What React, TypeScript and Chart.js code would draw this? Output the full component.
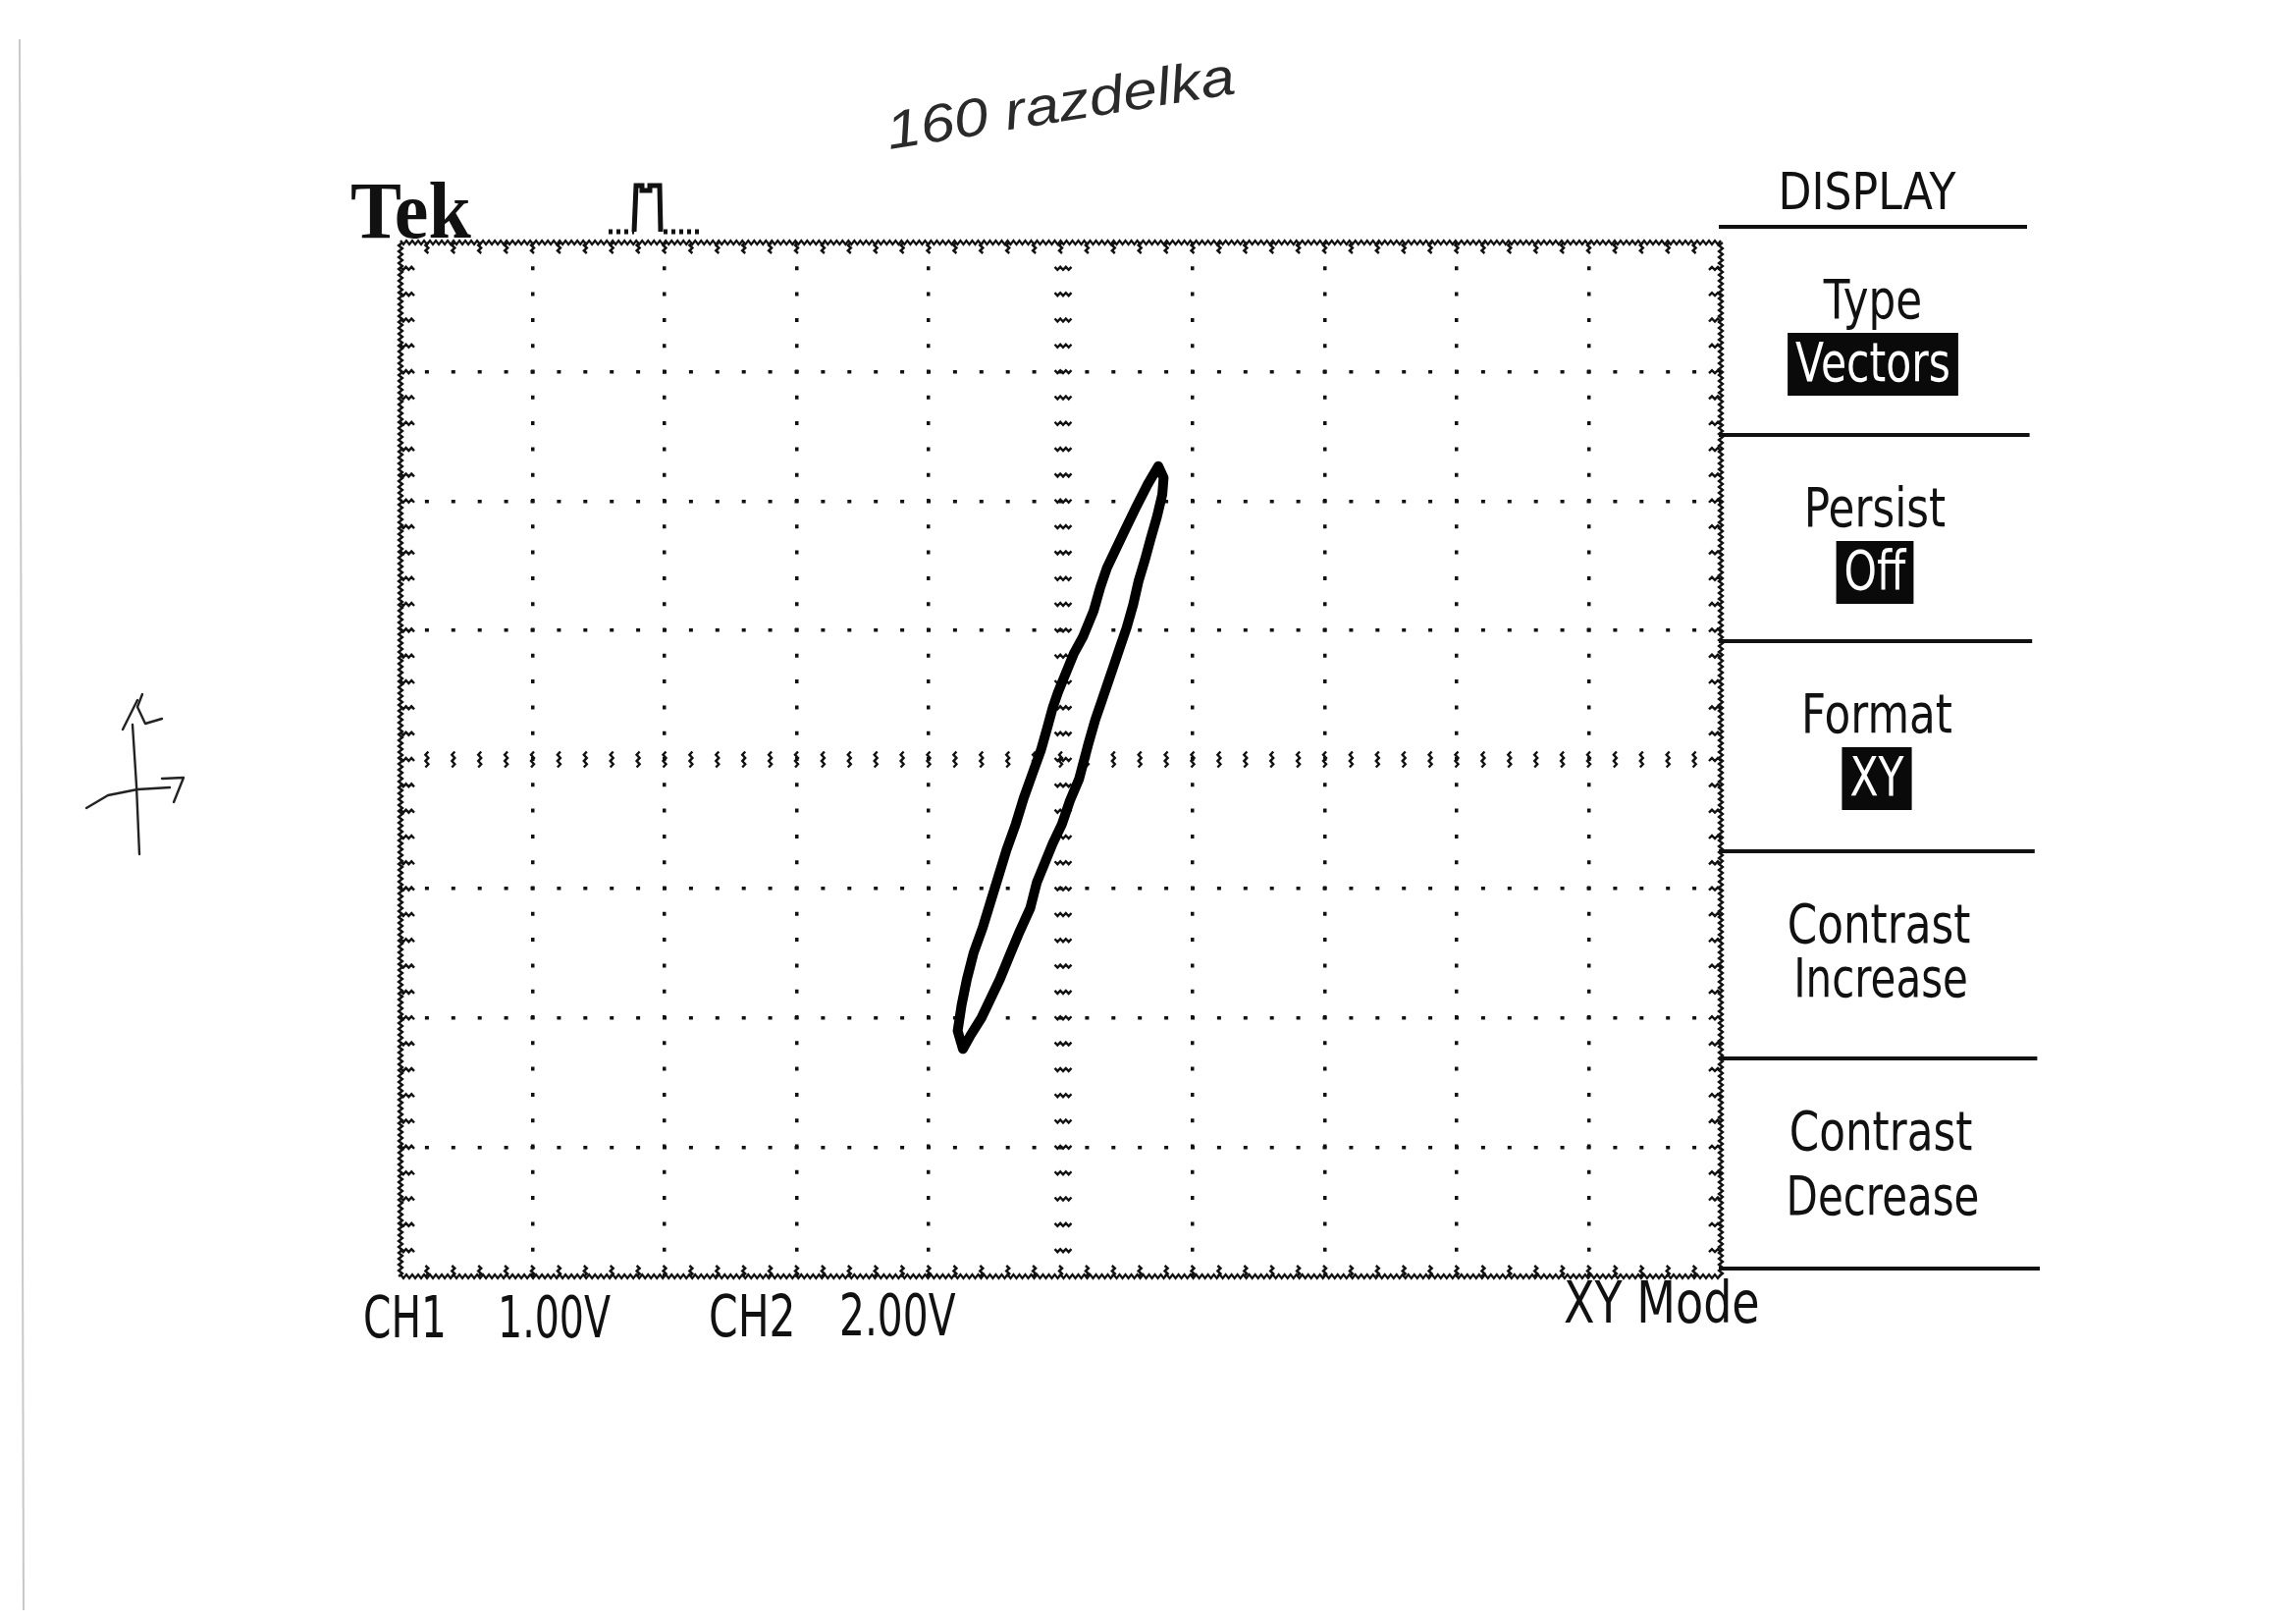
import { useEffect, useRef } from "react";
import { Chart, registerables } from "chart.js";

Chart.register(...registerables);

// ---------- data (in divisions) ----------
// CH1 drives X (1.00 V/div), CH2 drives Y (2.00 V/div)
const traceX = [
  -0.74, -0.78, -0.75, -0.71, -0.66, -0.59, -0.53, -0.47, -0.41, -0.34, -0.28,
  -0.21, -0.15, -0.1, -0.06, -0.02, 0.04, 0.1, 0.17, 0.25, 0.3, 0.35, 0.41, 0.48,
  0.57, 0.66, 0.74, 0.78, 0.77, 0.73, 0.68, 0.64, 0.59, 0.55, 0.5, 0.45, 0.41,
  0.36, 0.31, 0.26, 0.21, 0.14, 0.07, 0.01, -0.06, -0.12, -0.18, -0.23, -0.31,
  -0.38, -0.46, -0.53, -0.6, -0.68, -0.74,
];
const traceY = [
  -2.24, -2.1, -1.9, -1.7, -1.5, -1.3, -1.1, -0.9, -0.7, -0.5, -0.3, -0.1, 0.07,
  0.25, 0.4, 0.52, 0.67, 0.82, 0.95, 1.15, 1.33, 1.48, 1.61, 1.76, 1.95, 2.13,
  2.27, 2.18, 2.05, 1.88, 1.7, 1.55, 1.38, 1.2, 1.02, 0.87, 0.75, 0.6, 0.45, 0.3,
  0.12, -0.15, -0.32, -0.5, -0.65, -0.8, -0.95, -1.15, -1.33, -1.5, -1.7, -1.85,
  -2.0, -2.13, -2.24,
];

const xRange = [-5, 5];
const yRange = [-4, 4];
const minorPerDivision = 5;

const brandLabel = "Tek";
const menuTitle = "DISPLAY";
const menuLabels = ["Type", "Persist", "Format", "Contrast", "Contrast"];
const menuValues = ["Vectors", "Off", "XY", "Increase", "Decrease"];
const menuValueHighlighted = [true, true, true, false, false];
const channelNames = ["CH1", "CH2"];
const channelScales = ["1.00V", "2.00V"];
const modeLabel = "XY Mode";
const noteLabel = "160 razdelka";

// ---------- layout ----------
const W = 2339;
const H = 1653;
const AREA = { left: 408, top: 247, right: 1753, bottom: 1300 };
const INK = "#111";
const SANS = '"DejaVu Sans"';

type Opt = {
  size: number;
  sx?: number;
  align?: CanvasTextAlign;
  font?: string;
  weight?: string;
  style?: string;
  color?: string;
  rot?: number;
};

function text(ctx: CanvasRenderingContext2D, s: string, x: number, y: number, o: Opt) {
  ctx.save();
  ctx.translate(x, y);
  if (o.rot) ctx.rotate(o.rot);
  ctx.scale(o.sx ?? 1, 1);
  ctx.font = `${o.style ?? "normal"} ${o.weight ?? "normal"} ${o.size}px ${o.font ?? SANS}`;
  ctx.textAlign = o.align ?? "left";
  ctx.textBaseline = "alphabetic";
  ctx.fillStyle = o.color ?? INK;
  ctx.fillText(s, 0, 0);
  ctx.restore();
}

function zig(
  ctx: CanvasRenderingContext2D,
  x1: number,
  y1: number,
  x2: number,
  y2: number,
  amp = 1.6,
  step = 3
) {
  const dx = x2 - x1;
  const dy = y2 - y1;
  const len = Math.hypot(dx, dy);
  const n = Math.max(2, Math.round(len / step));
  const nx = -dy / len;
  const ny = dx / len;
  ctx.beginPath();
  for (let i = 0; i <= n; i++) {
    const t = i / n;
    const s = (i % 2 ? 1 : -1) * amp;
    const px = x1 + dx * t + nx * s;
    const py = y1 + dy * t + ny * s;
    if (i === 0) ctx.moveTo(px, py);
    else ctx.lineTo(px, py);
  }
  ctx.stroke();
}

function polyline(ctx: CanvasRenderingContext2D, pts: number[][]) {
  ctx.beginPath();
  pts.forEach(([x, y], i) => (i ? ctx.lineTo(x, y) : ctx.moveTo(x, y)));
  ctx.stroke();
}

const screenPlugin = {
  id: "tekScreen",
  beforeDraw(chart: any) {
    const ctx = chart.ctx as CanvasRenderingContext2D;
    ctx.save();
    ctx.fillStyle = "#fff";
    ctx.fillRect(0, 0, chart.width, chart.height);
    ctx.restore();
  },
  beforeDatasetsDraw(chart: any) {
    const ctx = chart.ctx as CanvasRenderingContext2D;
    const xs = chart.scales.x;
    const ys = chart.scales.y;
    const { left, right, top, bottom } = chart.chartArea;
    const x0 = xs.getPixelForValue(0);
    const y0 = ys.getPixelForValue(0);
    ctx.save();
    ctx.strokeStyle = INK;
    ctx.lineCap = "butt";

    // minor graticule ticks along the frame and the centre cross
    ctx.lineWidth = 2.4;
    const step = 1 / minorPerDivision;
    for (let v = xRange[0] + step; v < xRange[1] - 1e-6; v += step) {
      const px = xs.getPixelForValue(v);
      zig(ctx, px, top, px, top + 11, 1.5, 3);
      zig(ctx, px, bottom, px, bottom - 11, 1.5, 3);
      zig(ctx, px, y0 - 8, px, y0 + 8, 1.5, 3);
    }
    for (let v = yRange[0] + step; v < yRange[1] - 1e-6; v += step) {
      const py = ys.getPixelForValue(v);
      zig(ctx, left, py, left + 14, py, 1.5, 3);
      zig(ctx, right, py, right - 12, py, 1.5, 3);
      zig(ctx, x0 - 6, py, x0 + 11, py, 1.5, 3);
    }

    // frame
    ctx.lineWidth = 2.4;
    zig(ctx, left, top, right, top, 1.9, 3);
    zig(ctx, left, bottom, right, bottom, 1.9, 3);
    zig(ctx, left, top, left, bottom, 1.9, 3);
    zig(ctx, right, top, right, bottom, 1.9, 3);
    ctx.restore();
  },
  afterDraw(chart: any) {
    const ctx = chart.ctx as CanvasRenderingContext2D;
    const { left, right, top, bottom } = chart.chartArea;
    ctx.save();

    // faint scan edge
    ctx.strokeStyle = "#c8c8c8";
    ctx.lineWidth = 2;
    polyline(ctx, [
      [20, 40],
      [24, 1640],
    ]);

    // brand + trigger glyph
    text(ctx, brandLabel, left - 51, top - 5, {
      size: 82,
      sx: 0.95,
      font: '"Liberation Serif"',
      weight: "bold",
    });
    ctx.strokeStyle = INK;
    ctx.lineWidth = 5;
    ctx.setLineDash([4, 4]);
    polyline(ctx, [
      [left + 212, top - 11],
      [left + 238, top - 11],
    ]);
    polyline(ctx, [
      [left + 268, top - 11],
      [left + 305, top - 11],
    ]);
    ctx.setLineDash([]);
    polyline(ctx, [
      [left + 238, top - 11],
      [left + 240, top - 58],
      [left + 246, top - 58],
      [left + 246, top - 53],
      [left + 254, top - 53],
      [left + 254, top - 58],
      [left + 264, top - 58],
      [left + 265, top - 11],
    ]);

    // side menu
    const mx = right + 155;
    ctx.lineWidth = 4;
    const sectionTops = [231, 443, 653, 867, 1078, 1292];
    sectionTops.forEach((y, i) => {
      polyline(ctx, [
        [right - 2, y],
        [right + 312 + i * 2.6, y],
      ]);
    });
    text(ctx, menuTitle, mx - 6, 213, { size: 52, sx: 0.85, align: "center" });
    menuLabels.forEach((lab, i) => {
      const st = sectionTops[i];
      const cx = mx + i * 2;
      text(ctx, lab, cx, st + 93, { size: 56, sx: 0.78, align: "center" });
      const val = menuValues[i];
      if (menuValueHighlighted[i]) {
        ctx.save();
        ctx.font = `normal normal 56px ${SANS}`;
        const w = ctx.measureText(val).width * 0.76;
        ctx.restore();
        ctx.fillStyle = "#0a0a0a";
        ctx.fillRect(cx - w / 2 - 8, st + 108, w + 16, 64);
        text(ctx, val, cx, st + 157, { size: 56, sx: 0.76, align: "center", color: "#fff" });
      } else {
        text(ctx, val, cx + 2, st + 148 + (i === 4 ? 11 : 0), {
          size: 56,
          sx: 0.75,
          align: "center",
        });
      }
    });

    // bottom readouts
    const by = bottom + 62;
    text(ctx, channelNames[0], left - 38, by, { size: 59, sx: 0.69 });
    text(ctx, channelScales[0], left + 99, by, { size: 59, sx: 0.67 });
    text(ctx, channelNames[1], left + 314, by - 1, { size: 59, sx: 0.72 });
    text(ctx, channelScales[1], left + 447, by - 2, { size: 59, sx: 0.69 });
    text(ctx, modeLabel, right - 160, bottom + 47, { size: 59, sx: 0.78 });

    // handwriting
    text(ctx, noteLabel, 906, 152, {
      size: 54,
      sx: 1.16,
      style: "italic",
      font: '"Liberation Sans"',
      color: "#2a2a2a",
      rot: -0.16,
    });
    ctx.strokeStyle = "#222";
    ctx.lineWidth = 2.4;
    ctx.lineJoin = "round";
    ctx.lineCap = "round";
    polyline(ctx, [
      [142, 870],
      [139, 800],
      [135, 738],
    ]);
    polyline(ctx, [
      [125, 743],
      [140, 713],
    ]);
    polyline(ctx, [
      [145, 707],
      [140, 720],
      [148, 737],
      [165, 732],
    ]);
    polyline(ctx, [
      [88, 823],
      [110, 810],
      [140, 804],
      [173, 802],
    ]);
    polyline(ctx, [
      [165, 793],
      [187, 792],
      [177, 817],
    ]);
    ctx.restore();
  },
};

const hideEdgesAndCentre = (min: number, max: number) => (c: any) => {
  const v = c.tick ? c.tick.value : NaN;
  return v === 0 || v === min || v === max ? "rgba(0,0,0,0)" : INK;
};

export default function App() {
  const ref = useRef<HTMLCanvasElement>(null);
  useEffect(() => {
    const points = traceX.map((x, i) => ({ x, y: traceY[i] }));
    const chart = new Chart(ref.current as HTMLCanvasElement, {
      type: "scatter",
      data: {
        datasets: [
          {
            label: "CH1 vs CH2",
            data: points,
            showLine: true,
            borderColor: "#000",
            backgroundColor: "#000",
            borderWidth: 10,
            pointRadius: 0,
            tension: 0,
            fill: false,
            borderJoinStyle: "round",
            borderCapStyle: "round",
          } as any,
        ],
      },
      options: {
        responsive: false,
        animation: false,
        devicePixelRatio: 1,
        layout: {
          padding: {
            left: AREA.left,
            top: AREA.top,
            right: W - AREA.right,
            bottom: H - AREA.bottom,
          },
        },
        plugins: {
          legend: { display: false },
          tooltip: { enabled: false },
          title: { display: false },
        },
        scales: {
          x: {
            type: "linear",
            min: xRange[0],
            max: xRange[1],
            ticks: { display: false, stepSize: 1 },
            grid: {
              drawTicks: false,
              lineWidth: 3.5,
              color: hideEdgesAndCentre(xRange[0], xRange[1]),
            },
            border: { display: false, dash: [4, 22.3], dashOffset: 2 },
          },
          y: {
            type: "linear",
            min: yRange[0],
            max: yRange[1],
            ticks: { display: false, stepSize: 1 },
            grid: {
              drawTicks: false,
              lineWidth: 3.5,
              color: hideEdgesAndCentre(yRange[0], yRange[1]),
            },
            border: { display: false, dash: [4, 22.9], dashOffset: 2 },
          },
        },
      } as any,
      plugins: [screenPlugin as any],
    });
    return () => chart.destroy();
  }, []);

  return (
    <div
      style={{
        position: "fixed",
        left: 0,
        top: 0,
        width: W,
        height: H,
        background: "#fff",
      }}
    >
      <canvas ref={ref} width={W} height={H} style={{ display: "block", width: W, height: H }} />
    </div>
  );
}
